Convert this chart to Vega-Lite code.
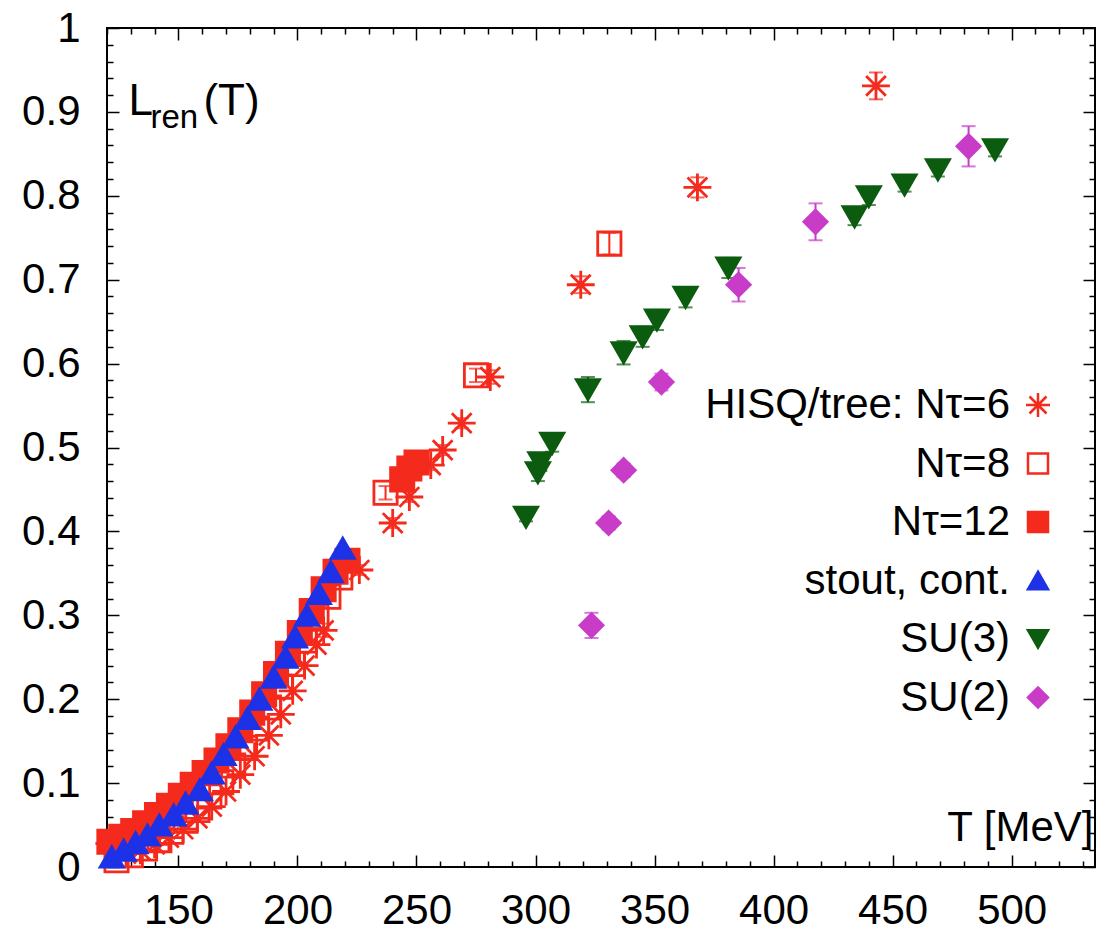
{
  "$schema": "https://vega.github.io/schema/vega-lite/v6.json",
  "width": 988,
  "height": 839,
  "autosize": {"type": "none"},
  "padding": {"left": 107, "top": 28, "right": 10, "bottom": 67},
  "background": "white",
  "config": {
    "font": "Liberation Sans",
    "view": {"stroke": "black", "strokeWidth": 2},
    "axis": {
      "domain": false, "grid": false,
      "tickColor": "black", "tickWidth": 1.5,
      "labelColor": "black", "labelFontSize": 42, "labelFont": "Liberation Sans",
      "labelOverlap": false, "labelFlush": false,
      "titleColor": "black", "titleFont": "Liberation Sans", "titleFontSize": 42, "titleFontWeight": "normal"
    },
    "legend": {
      "orient": "none", "legendX": 910, "legendY": 356, "padding": 0,
      "labelFontSize": 42, "labelColor": "black", "labelAlign": "right", "labelOffset": -49, "labelLimit": 0,
      "symbolSize": 400, "symbolStrokeWidth": 2.5, "rowPadding": 16.5
    }
  },
  "datasets": {
    "pts": [
      {"series": "HISQ/tree: Nτ=6", "T": 121, "L": 0.028, "err": 0},
      {"series": "HISQ/tree: Nτ=6", "T": 128, "L": 0.016, "err": 0},
      {"series": "HISQ/tree: Nτ=6", "T": 134, "L": 0.020, "err": 0},
      {"series": "HISQ/tree: Nτ=6", "T": 140, "L": 0.027, "err": 0},
      {"series": "HISQ/tree: Nτ=6", "T": 146, "L": 0.035, "err": 0},
      {"series": "HISQ/tree: Nτ=6", "T": 152, "L": 0.045, "err": 0},
      {"series": "HISQ/tree: Nτ=6", "T": 158, "L": 0.058, "err": 0},
      {"series": "HISQ/tree: Nτ=6", "T": 164, "L": 0.072, "err": 0},
      {"series": "HISQ/tree: Nτ=6", "T": 170, "L": 0.090, "err": 0},
      {"series": "HISQ/tree: Nτ=6", "T": 176, "L": 0.110, "err": 0},
      {"series": "HISQ/tree: Nτ=6", "T": 182, "L": 0.132, "err": 0},
      {"series": "HISQ/tree: Nτ=6", "T": 188, "L": 0.157, "err": 0},
      {"series": "HISQ/tree: Nτ=6", "T": 193, "L": 0.182, "err": 0},
      {"series": "HISQ/tree: Nτ=6", "T": 198, "L": 0.210, "err": 0},
      {"series": "HISQ/tree: Nτ=6", "T": 203, "L": 0.240, "err": 0},
      {"series": "HISQ/tree: Nτ=6", "T": 208, "L": 0.265, "err": 0},
      {"series": "HISQ/tree: Nτ=6", "T": 211, "L": 0.282, "err": 0.008},
      {"series": "HISQ/tree: Nτ=6", "T": 226, "L": 0.354, "err": 0.006},
      {"series": "HISQ/tree: Nτ=6", "T": 240, "L": 0.410, "err": 0.006},
      {"series": "HISQ/tree: Nτ=6", "T": 247, "L": 0.441, "err": 0.006},
      {"series": "HISQ/tree: Nτ=6", "T": 256, "L": 0.479, "err": 0.006},
      {"series": "HISQ/tree: Nτ=6", "T": 261, "L": 0.497, "err": 0.006},
      {"series": "HISQ/tree: Nτ=6", "T": 269, "L": 0.529, "err": 0.006},
      {"series": "HISQ/tree: Nτ=6", "T": 281, "L": 0.584, "err": 0.008},
      {"series": "HISQ/tree: Nτ=6", "T": 319, "L": 0.694, "err": 0.010},
      {"series": "HISQ/tree: Nτ=6", "T": 368, "L": 0.810, "err": 0.012},
      {"series": "HISQ/tree: Nτ=6", "T": 443, "L": 0.931, "err": 0.016},
      {"series": "Nτ=8", "T": 124, "L": 0.008, "err": 0},
      {"series": "Nτ=8", "T": 130, "L": 0.014, "err": 0},
      {"series": "Nτ=8", "T": 136, "L": 0.022, "err": 0},
      {"series": "Nτ=8", "T": 142, "L": 0.032, "err": 0},
      {"series": "Nτ=8", "T": 147, "L": 0.042, "err": 0},
      {"series": "Nτ=8", "T": 153, "L": 0.055, "err": 0},
      {"series": "Nτ=8", "T": 158, "L": 0.068, "err": 0},
      {"series": "Nτ=8", "T": 163, "L": 0.084, "err": 0},
      {"series": "Nτ=8", "T": 168, "L": 0.101, "err": 0},
      {"series": "Nτ=8", "T": 173, "L": 0.121, "err": 0},
      {"series": "Nτ=8", "T": 178, "L": 0.142, "err": 0},
      {"series": "Nτ=8", "T": 183, "L": 0.165, "err": 0},
      {"series": "Nτ=8", "T": 188, "L": 0.190, "err": 0},
      {"series": "Nτ=8", "T": 193, "L": 0.215, "err": 0},
      {"series": "Nτ=8", "T": 198, "L": 0.242, "err": 0},
      {"series": "Nτ=8", "T": 203, "L": 0.270, "err": 0},
      {"series": "Nτ=8", "T": 208, "L": 0.298, "err": 0},
      {"series": "Nτ=8", "T": 213, "L": 0.322, "err": 0},
      {"series": "Nτ=8", "T": 218, "L": 0.345, "err": 0},
      {"series": "Nτ=8", "T": 237, "L": 0.446, "err": 0.008},
      {"series": "Nτ=8", "T": 275, "L": 0.586, "err": 0.008},
      {"series": "Nτ=8", "T": 331, "L": 0.743, "err": 0.013},
      {"series": "Nτ=12", "T": 121, "L": 0.030, "err": 0},
      {"series": "Nτ=12", "T": 126, "L": 0.036, "err": 0},
      {"series": "Nτ=12", "T": 131, "L": 0.043, "err": 0},
      {"series": "Nτ=12", "T": 136, "L": 0.052, "err": 0},
      {"series": "Nτ=12", "T": 141, "L": 0.062, "err": 0},
      {"series": "Nτ=12", "T": 146, "L": 0.073, "err": 0},
      {"series": "Nτ=12", "T": 151, "L": 0.085, "err": 0},
      {"series": "Nτ=12", "T": 156, "L": 0.098, "err": 0},
      {"series": "Nτ=12", "T": 161, "L": 0.112, "err": 0},
      {"series": "Nτ=12", "T": 166, "L": 0.127, "err": 0},
      {"series": "Nτ=12", "T": 171, "L": 0.144, "err": 0},
      {"series": "Nτ=12", "T": 176, "L": 0.163, "err": 0},
      {"series": "Nτ=12", "T": 181, "L": 0.184, "err": 0},
      {"series": "Nτ=12", "T": 186, "L": 0.206, "err": 0},
      {"series": "Nτ=12", "T": 191, "L": 0.230, "err": 0},
      {"series": "Nτ=12", "T": 196, "L": 0.254, "err": 0},
      {"series": "Nτ=12", "T": 201, "L": 0.279, "err": 0},
      {"series": "Nτ=12", "T": 206, "L": 0.305, "err": 0},
      {"series": "Nτ=12", "T": 211, "L": 0.331, "err": 0},
      {"series": "Nτ=12", "T": 216, "L": 0.352, "err": 0},
      {"series": "Nτ=12", "T": 221, "L": 0.365, "err": 0},
      {"series": "Nτ=12", "T": 244, "L": 0.462, "err": 0},
      {"series": "Nτ=12", "T": 247, "L": 0.475, "err": 0},
      {"series": "Nτ=12", "T": 250, "L": 0.482, "err": 0},
      {"series": "stout, cont.", "T": 122, "L": 0.012, "err": 0},
      {"series": "stout, cont.", "T": 127, "L": 0.020, "err": 0},
      {"series": "stout, cont.", "T": 132, "L": 0.029, "err": 0},
      {"series": "stout, cont.", "T": 137, "L": 0.038, "err": 0},
      {"series": "stout, cont.", "T": 142, "L": 0.050, "err": 0},
      {"series": "stout, cont.", "T": 148, "L": 0.062, "err": 0},
      {"series": "stout, cont.", "T": 153, "L": 0.076, "err": 0},
      {"series": "stout, cont.", "T": 159, "L": 0.092, "err": 0},
      {"series": "stout, cont.", "T": 164, "L": 0.112, "err": 0},
      {"series": "stout, cont.", "T": 169, "L": 0.134, "err": 0},
      {"series": "stout, cont.", "T": 174, "L": 0.155, "err": 0},
      {"series": "stout, cont.", "T": 179, "L": 0.177, "err": 0},
      {"series": "stout, cont.", "T": 184, "L": 0.200, "err": 0},
      {"series": "stout, cont.", "T": 190, "L": 0.226, "err": 0},
      {"series": "stout, cont.", "T": 195, "L": 0.250, "err": 0},
      {"series": "stout, cont.", "T": 199, "L": 0.274, "err": 0},
      {"series": "stout, cont.", "T": 204, "L": 0.300, "err": 0},
      {"series": "stout, cont.", "T": 209, "L": 0.326, "err": 0},
      {"series": "stout, cont.", "T": 214, "L": 0.352, "err": 0},
      {"series": "stout, cont.", "T": 219, "L": 0.380, "err": 0},
      {"series": "SU(3)", "T": 296, "L": 0.417, "err": 0.005},
      {"series": "SU(3)", "T": 301, "L": 0.470, "err": 0.010},
      {"series": "SU(3)", "T": 302, "L": 0.482, "err": 0.010},
      {"series": "SU(3)", "T": 307, "L": 0.505, "err": 0.010},
      {"series": "SU(3)", "T": 322, "L": 0.569, "err": 0.015},
      {"series": "SU(3)", "T": 337, "L": 0.613, "err": 0.014},
      {"series": "SU(3)", "T": 345, "L": 0.632, "err": 0.012},
      {"series": "SU(3)", "T": 351, "L": 0.652, "err": 0.012},
      {"series": "SU(3)", "T": 363, "L": 0.679, "err": 0.012},
      {"series": "SU(3)", "T": 381, "L": 0.714, "err": 0.012},
      {"series": "SU(3)", "T": 434, "L": 0.775, "err": 0.010},
      {"series": "SU(3)", "T": 440, "L": 0.799, "err": 0.010},
      {"series": "SU(3)", "T": 455, "L": 0.813, "err": 0.008},
      {"series": "SU(3)", "T": 469, "L": 0.831, "err": 0.008},
      {"series": "SU(3)", "T": 493, "L": 0.855, "err": 0.008},
      {"series": "SU(2)", "T": 323.5, "L": 0.288, "err": 0.015},
      {"series": "SU(2)", "T": 330.7, "L": 0.410, "err": 0.008},
      {"series": "SU(2)", "T": 337, "L": 0.473, "err": 0.008},
      {"series": "SU(2)", "T": 352.9, "L": 0.578, "err": 0.010},
      {"series": "SU(2)", "T": 385.3, "L": 0.694, "err": 0.020},
      {"series": "SU(2)", "T": 417.6, "L": 0.769, "err": 0.022},
      {"series": "SU(2)", "T": 481.9, "L": 0.859, "err": 0.024}
    ]
  },
  "data": {"name": "pts"},
  "layer": [
    {
      "transform": [{"filter": "datum.err > 0"}],
      "mark": {"type": "errorbar", "ticks": true, "size": 14, "thickness": 2},
      "encoding": {
        "x": {
          "field": "T", "type": "quantitative",
          "scale": {"domain": [120, 535], "nice": false, "zero": false},
          "axis": {
            "orient": "top", "labels": false, "title": null,
            "values": [120,130,140,150,160,170,180,190,200,210,220,230,240,250,260,270,280,290,300,310,320,330,340,350,360,370,380,390,400,410,420,430,440,450,460,470,480,490,500,510,520,530],
            "tickSize": {"condition": {"test": "datum.value % 50 === 0", "value": -12}, "value": -6}
          }
        },
        "y": {
          "field": "L", "type": "quantitative",
          "scale": {"domain": [0, 1], "nice": false, "zero": false},
          "axis": {
            "orient": "right", "labels": false, "title": null,
            "values": [0,0.02,0.04,0.06,0.08,0.1,0.12,0.14,0.16,0.18,0.2,0.22,0.24,0.26,0.28,0.3,0.32,0.34,0.36,0.38,0.4,0.42,0.44,0.46,0.48,0.5,0.52,0.54,0.56,0.58,0.6,0.62,0.64,0.66,0.68,0.7,0.72,0.74,0.76,0.78,0.8,0.82,0.84,0.86,0.88,0.9,0.92,0.94,0.96,0.98,1],
            "tickSize": {"condition": {"test": "abs(datum.value * 10 - round(datum.value * 10)) < 1e-6", "value": -12}, "value": -6}
          }
        },
        "yError": {"field": "err"},
        "color": {
          "field": "series", "type": "nominal", "legend": null,
          "scale": {
            "domain": ["HISQ/tree: Nτ=6", "Nτ=8", "Nτ=12", "stout, cont.", "SU(3)", "SU(2)"],
            "range": ["#f42a1c", "#f42a1c", "#f42a1c", "#1d32e6", "#0c5c10", "#c83cc8"]
          }
        }
      }
    },
    {
      "mark": {"type": "point", "size": 540, "strokeWidth": 2.8, "opacity": 1},
      "encoding": {
        "x": {
          "field": "T", "type": "quantitative",
          "scale": {"domain": [120, 535], "nice": false, "zero": false},
          "axis": {
            "orient": "bottom",
            "values": [120,130,140,150,160,170,180,190,200,210,220,230,240,250,260,270,280,290,300,310,320,330,340,350,360,370,380,390,400,410,420,430,440,450,460,470,480,490,500,510,520,530],
            "tickSize": {"condition": {"test": "datum.value % 50 === 0", "value": -12}, "value": -6},
            "labelExpr": "datum.value % 50 === 0 ? format(datum.value, 'd') : ''",
            "labelPadding": 35,
            "title": "T [MeV]", "titleX": 986, "titleY": -27,
            "titleAlign": "right", "titleBaseline": "alphabetic"
          }
        },
        "y": {
          "field": "L", "type": "quantitative",
          "scale": {"domain": [0, 1], "nice": false, "zero": false},
          "axis": {
            "orient": "left", "title": null,
            "values": [0,0.02,0.04,0.06,0.08,0.1,0.12,0.14,0.16,0.18,0.2,0.22,0.24,0.26,0.28,0.3,0.32,0.34,0.36,0.38,0.4,0.42,0.44,0.46,0.48,0.5,0.52,0.54,0.56,0.58,0.6,0.62,0.64,0.66,0.68,0.7,0.72,0.74,0.76,0.78,0.8,0.82,0.84,0.86,0.88,0.9,0.92,0.94,0.96,0.98,1],
            "tickSize": {"condition": {"test": "abs(datum.value * 10 - round(datum.value * 10)) < 1e-6", "value": -12}, "value": -6},
            "labelExpr": "abs(datum.value * 10 - round(datum.value * 10)) < 1e-6 ? format(datum.value, '.1~f') : ''",
            "labelPadding": 39
          }
        },
        "shape": {
          "field": "series", "type": "nominal", "legend": {"title": null},
          "scale": {
            "domain": ["HISQ/tree: Nτ=6", "Nτ=8", "Nτ=12", "stout, cont.", "SU(3)", "SU(2)"],
            "range": ["M-1.2,0L1.2,0M0,-1.2L0,1.2M-0.85,-0.85L0.85,0.85M-0.85,0.85L0.85,-0.85", "square", "square", "triangle-up", "triangle-down", "diamond"]
          }
        },
        "stroke": {
          "field": "series", "type": "nominal", "legend": {"title": null},
          "scale": {
            "domain": ["HISQ/tree: Nτ=6", "Nτ=8", "Nτ=12", "stout, cont.", "SU(3)", "SU(2)"],
            "range": ["#f42a1c", "#f42a1c", "#f42a1c", "#1d32e6", "#0c5c10", "#c83cc8"]
          }
        },
        "fill": {
          "field": "series", "type": "nominal", "legend": {"title": null},
          "scale": {
            "domain": ["HISQ/tree: Nτ=6", "Nτ=8", "Nτ=12", "stout, cont.", "SU(3)", "SU(2)"],
            "range": ["transparent", "transparent", "#f42a1c", "#1d32e6", "#0c5c10", "#c83cc8"]
          }
        }
      }
    },
    {
      "data": {"values": [{}]},
      "mark": {"type": "text", "text": "L", "align": "left", "baseline": "alphabetic", "fontSize": 44, "color": "black"},
      "encoding": {
        "x": {"datum": 129, "type": "quantitative", "axis": null},
        "y": {"datum": 0.896, "type": "quantitative", "axis": null}
      }
    },
    {
      "data": {"values": [{}]},
      "mark": {"type": "text", "text": "ren", "align": "left", "baseline": "alphabetic", "fontSize": 33, "dx": 22, "dy": 13, "color": "black"},
      "encoding": {
        "x": {"datum": 129, "type": "quantitative", "axis": null},
        "y": {"datum": 0.896, "type": "quantitative", "axis": null}
      }
    },
    {
      "data": {"values": [{}]},
      "mark": {"type": "text", "text": "(T)", "align": "left", "baseline": "alphabetic", "fontSize": 44, "dx": 75, "color": "black"},
      "encoding": {
        "x": {"datum": 129, "type": "quantitative", "axis": null},
        "y": {"datum": 0.896, "type": "quantitative", "axis": null}
      }
    }
  ],
  "resolve": {
    "axis": {"x": "independent", "y": "independent"},
    "legend": {"color": "independent"}
  }
}
